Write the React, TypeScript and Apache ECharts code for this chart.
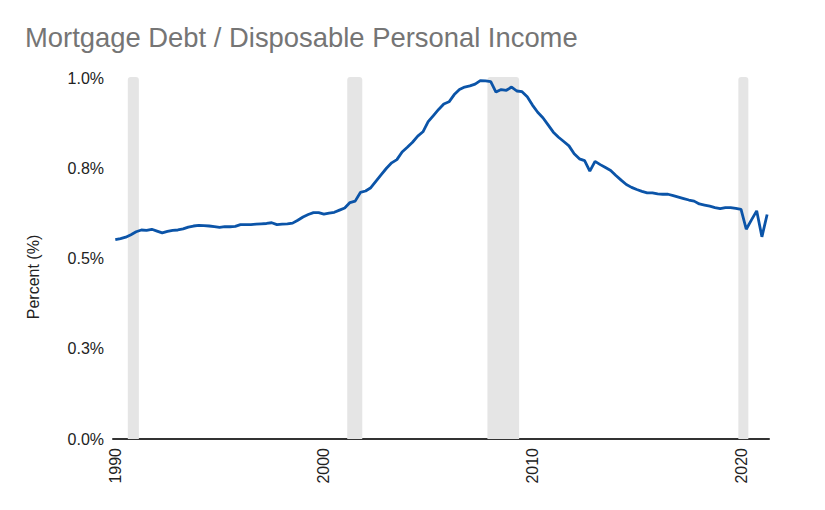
import React, { useEffect, useRef } from "react";
import * as echarts from "echarts";

const title = "Mortgage Debt / Disposable Personal Income";
const yAxisName = "Percent (%)";
const startYear = 1990;
// quarterly values, 1990 Q1 .. 2021 Q2
const ratio: number[] = [
  0.552, 0.555, 0.559, 0.566,
  0.574, 0.579, 0.578, 0.581,
  0.576, 0.571, 0.575, 0.578,
  0.579, 0.582, 0.587, 0.590,
  0.592, 0.591, 0.590, 0.588,
  0.586, 0.588, 0.588, 0.589,
  0.594, 0.594, 0.594, 0.595,
  0.596, 0.597, 0.599, 0.594,
  0.595, 0.596, 0.598, 0.606,
  0.615, 0.622, 0.627, 0.627,
  0.623, 0.626, 0.628, 0.634,
  0.640, 0.655, 0.659, 0.683,
  0.687, 0.696, 0.714, 0.732,
  0.750, 0.765, 0.774, 0.795,
  0.808, 0.822, 0.839, 0.851,
  0.879, 0.896, 0.913, 0.928,
  0.934, 0.954, 0.968, 0.975,
  0.978, 0.983, 0.993, 0.992,
  0.990, 0.961, 0.968, 0.966,
  0.975, 0.964, 0.962, 0.948,
  0.925, 0.905, 0.890, 0.870,
  0.850, 0.836, 0.824, 0.812,
  0.790, 0.776, 0.771, 0.742,
  0.769, 0.760, 0.752, 0.744,
  0.730, 0.717, 0.705, 0.697,
  0.691, 0.686, 0.682, 0.682,
  0.679, 0.678, 0.678, 0.674,
  0.670, 0.666, 0.662, 0.659,
  0.651, 0.648, 0.645, 0.641,
  0.638, 0.641, 0.641, 0.639,
  0.636, 0.581, 0.607, 0.632,
  0.560, 0.622,
];
const recessionStart: number[] = [1990.6, 2001.12, 2007.84, 2019.87];
const recessionEnd: number[] = [1991.13, 2001.84, 2009.36, 2020.35];
const xTickYears: number[] = [1990, 2000, 2010, 2020];
const yTicks: number[] = [0, 0.25, 0.5, 0.75, 1];

export default function App() {
  const ref = useRef<HTMLDivElement>(null);
  useEffect(() => {
    document.body.style.margin = "0";
    if (!ref.current) return;
    const chart = echarts.init(ref.current, undefined, { renderer: "svg" });
    const lineData = ratio.map((v, i) => [startYear + i / 4, v]);
    const bands = recessionStart.map((s, i) => [s, recessionEnd[i]]);
    chart.setOption({
      animation: false,
      textStyle: { fontFamily: "Arial, 'Liberation Sans', sans-serif" },
      title: {
        text: title,
        left: 25,
        top: 24,
        padding: 0,
        textStyle: { fontSize: 27.4, fontWeight: "normal", color: "#757575" },
      },
      graphic: [
        {
          type: "text",
          x: 33,
          y: 277,
          rotation: Math.PI / 2,
          style: {
            text: yAxisName,
            fontSize: 16,
            fill: "#222",
            align: "center",
            verticalAlign: "middle",
            fontFamily: "Arial, 'Liberation Sans', sans-serif",
          },
        },
      ],
      grid: { left: 113, right: 56, top: 78, bottom: 71 },
      xAxis: {
        type: "value",
        min: 1989.89,
        max: 2021.34,
        axisLine: { show: true, lineStyle: { color: "#333", width: 2 } },
        axisTick: { show: false },
        splitLine: { show: false },
        axisLabel: {
          customValues: xTickYears,
          rotate: 90,
          fontSize: 16,
          color: "#222",
          margin: 9,
          formatter: (v: number) => String(v),
        },
      },
      yAxis: {
        type: "value",
        min: 0,
        max: 1,
        interval: 0.25,
        axisLine: { show: false },
        axisTick: { show: false },
        splitLine: { show: false },
        axisLabel: {
          customValues: yTicks,
          fontSize: 16,
          color: "#222",
          margin: 9,
          formatter: (v: number) => v.toFixed(1) + "%",
        },
      },
      series: [
        {
          type: "custom",
          z: 1,
          silent: true,
          data: bands,
          encode: { x: [0, 1] },
          renderItem: (params: any, api: any) => {
            const p0 = api.coord([api.value(0), 1]);
            const p1 = api.coord([api.value(1), 0]);
            return {
              type: "rect",
              shape: {
                x: p0[0],
                y: p0[1] - 1,
                width: p1[0] - p0[0],
                height: p1[1] - p0[1] + 1,
                r: [3, 3, 0, 0],
              },
              style: { fill: "#e5e5e5" },
            };
          },
        },
        {
          type: "line",
          z: 3,
          data: lineData,
          showSymbol: false,
          lineStyle: { color: "#0b54a8", width: 2.8 },
          itemStyle: { color: "#0b54a8" },
        },
      ],
    });
    return () => chart.dispose();
  }, []);
  return <div ref={ref} style={{ width: 825, height: 510 }} />;
}
